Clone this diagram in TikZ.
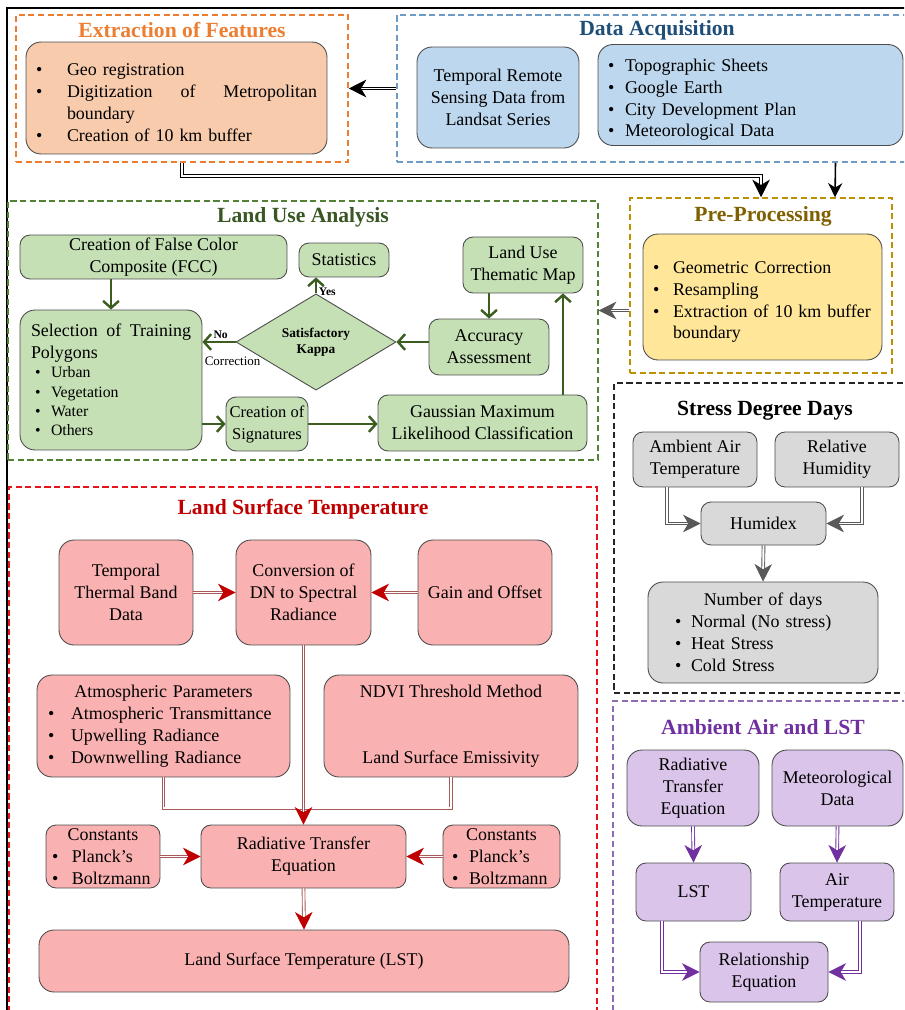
\documentclass[tikz,border=0pt]{standalone}
\usepackage{fontspec}
\setmainfont{Liberation Serif}
\usetikzlibrary{shapes.geometric, arrows.meta, calc}

\definecolor{orng}{HTML}{ED7D31}
\definecolor{peach}{HTML}{F8CBAD}
\definecolor{bluefr}{HTML}{6E9BC5}
\definecolor{bluett}{HTML}{1F4E79}
\definecolor{bluefl}{HTML}{BDD7EE}
\definecolor{goldfr}{HTML}{BF9000}
\definecolor{goldtt}{HTML}{7F6000}
\definecolor{goldfl}{HTML}{FFE699}
\definecolor{grnfr}{HTML}{548235}
\definecolor{grntt}{HTML}{385723}
\definecolor{grnfl}{HTML}{C5E0B4}
\definecolor{grnar}{HTML}{3B5E20}
\definecolor{grayfl}{HTML}{D9D9D9}
\definecolor{grayar}{HTML}{595959}
\definecolor{purpfr}{HTML}{8E6BB5}
\definecolor{purptt}{HTML}{7030A0}
\definecolor{purpfl}{HTML}{DAC4EA}
\definecolor{redfr}{HTML}{E8141B}
\definecolor{redtt}{HTML}{C00000}
\definecolor{redfl}{HTML}{FAB1B1}
\definecolor{redln}{HTML}{A85A5A}

\newcommand{\bl}[3][0pt]{\par\noindent\hangindent=\dimexpr#1+#2\relax\hangafter=1\hspace*{#1}\makebox[#2][l]{\textbullet}#3}
\newcommand{\blc}[2]{\par\noindent\hspace*{#1}#2}

\tikzset{
  dframe/.style={draw, line width=0.9pt, dash pattern=on 3.5pt off 2pt, inner sep=0pt},
  ttl/.style={font=\fontsize{12.3}{14}\selectfont\bfseries},
  bx/.style={draw=black!70, line width=0.5pt, rounded corners=0.2cm, align=center, inner sep=0pt},
  lbx/.style={bx, align=left},
  dbl/.style={double, double distance=1.1pt, line width=0.5pt, -{Stealth[length=10pt,width=10pt,inset=3pt]}},
  redtip/.style={-{Stealth[length=10pt,width=10pt,inset=3pt,color=redtt]}},
  grar/.style={draw=grnar, line width=1.4pt, -{Straight Barb[length=4pt,width=9pt]}},
  lbl/.style={font=\fontsize{6.6}{8}\selectfont\bfseries, inner sep=1pt}
}

\begin{document}
\begin{tikzpicture}[x=0.02cm, y=-0.02cm, font=\fontsize{10.2}{12.5}\selectfont]
\useasboundingbox (0,0) rectangle (904,1010);
\clip (0,0) rectangle (904,1010);
\draw[line width=1.1pt] (7,1014) -- (7,8) -- (908,8);

\node[dframe, draw=orng, minimum width=6.64cm, minimum height=2.94cm] (extr) at (182,88.5) {};
\node[ttl, text=orng] (extrttl) at (182,30) {Extraction of Features};
\node[lbx, fill=peach, rounded corners=0.3cm, text width=5.62cm, inner xsep=0.2cm, minimum height=2.24cm] (extrbox) at (176.5,98)
  {\bl{0.62cm}{Geo registration}\bl{0.62cm}{Digitization\hfill of\hfill Metropolitan}\blc{0.62cm}{boundary}\bl{0.62cm}{Creation of 10 km buffer}};

\node[dframe, draw=bluefr, minimum width=10.22cm, minimum height=2.94cm] (acq) at (652.5,88.5) {};
\node[ttl, text=bluett] (acqttl) at (657,30) {Data Acquisition};
\node[bx, fill=bluefl, rounded corners=0.3cm, minimum width=3.24cm, minimum height=2.02cm] (remote) at (498,97.5) {Temporal Remote\\Sensing Data from\\Landsat Series};
\node[lbx, fill=bluefl, rounded corners=0.3cm, text width=5.7cm, inner xsep=0.2cm, minimum height=2.02cm] (sources) at (750.5,95)
  {\bl{0.34cm}{Topographic Sheets}\bl{0.34cm}{Google Earth}\bl{0.34cm}{City Development Plan}\bl{0.34cm}{Meteorological Data}};

\node[dframe, draw=goldfr, minimum width=5.24cm, minimum height=3.5cm] (pre) at (761,285.5) {};
\node[ttl, text=goldtt] (prettl) at (763,216) {Pre-Processing};
\node[lbx, fill=goldfl, rounded corners=0.3cm, text width=4.38cm, inner xsep=0.2cm, minimum height=2.52cm] (prebox) at (762.5,297)
  {\bl{0.4cm}{Geometric Correction}\bl{0.4cm}{Resampling}\bl{0.4cm}{Extraction of 10 km buffer}\blc{0.4cm}{boundary}};

\node[dframe, draw=grnfr, minimum width=11.8cm, minimum height=5.18cm] (lua) at (303,330.5) {};
\node[ttl, text=grntt] (luattl) at (303,217) {Land Use Analysis};
\node[bx, fill=grnfl, minimum width=5.34cm, minimum height=0.88cm] (fcc) at (153.5,257) {Creation of False Color\\Composite (FCC)};
\node[bx, fill=grnfl, minimum width=1.8cm, minimum height=0.68cm] (stats) at (344,260) {Statistics};
\node[bx, fill=grnfl, minimum width=2.4cm, minimum height=1.12cm] (thematic) at (523,265) {Land Use\\Thematic Map};
\node[diamond, draw=black!70, line width=0.5pt, fill=grnfl, minimum width=3.2cm, minimum height=1.72cm, inner sep=0pt, align=center, font=\fontsize{7.6}{9}\selectfont\bfseries] (kappa) at (316,342) {Satisfactory\\Kappa};
\node[lbx, fill=grnfl, rounded corners=0.3cm, text width=3.2cm, inner xsep=0.22cm, minimum height=2.8cm] (training) at (111,380)
  {Selection\hfill of\hfill Training\newline Polygons\par
   {\fontsize{9}{11}\selectfont\bl[0.08cm]{0.32cm}{Urban}\bl[0.08cm]{0.32cm}{Vegetation}\bl[0.08cm]{0.32cm}{Water}\bl[0.08cm]{0.32cm}{Others}\par}};
\node[bx, fill=grnfl, minimum width=2.4cm, minimum height=1.12cm] (accuracy) at (489,347) {Accuracy\\Assessment};
\node[bx, fill=grnfl, minimum width=1.64cm, minimum height=1.08cm, font=\fontsize{9.4}{12.5}\selectfont] (signatures) at (267,424) {Creation of\\Signatures};
\node[bx, fill=grnfl, minimum width=4.18cm, minimum height=1.12cm] (gmlc) at (482.5,423) {Gaussian Maximum\\Likelihood Classification};

\draw[grar] (fcc.south -| training.north) -- (training.north);
\draw[grar] (kappa.north) -- (kappa.north |- stats.south) node[lbl, right, pos=0.08] (yes) {Yes};
\draw[grar] (thematic.south -| accuracy.north) -- (accuracy.north);
\draw[grar] ($(gmlc.north)+(80.5,0)$) coordinate (g1) -- (g1 |- thematic.south);
\draw[grar] (accuracy.west |- kappa.east) -- (kappa.east);
\draw[grar] (kappa.west) -- (kappa.west -| training.east) node[lbl, above, pos=0.45] (no) {No};
\node[font=\fontsize{7.4}{9}\selectfont, inner sep=1pt] (corr) at ($(kappa.west)+(-3,19)$) {Correction};
\draw[grar] (signatures.west -| training.east) -- (signatures.west);
\draw[grar] (signatures.east) -- (gmlc.west |- signatures.east);

\node[dframe, draw=black!85, minimum width=5.88cm, minimum height=6.2cm] (sdd) at (761,538) {};
\node[ttl] (sddttl) at (765,411) {Stress Degree Days};
\node[bx, fill=grayfl, minimum width=2.48cm, minimum height=1.1cm] (airtemp) at (695,459.5) {Ambient Air\\Temperature};
\node[bx, fill=grayfl, minimum width=2.48cm, minimum height=1.1cm] (humidity) at (837,459.5) {Relative\\Humidity};
\node[bx, fill=grayfl, minimum width=2.5cm, minimum height=0.86cm] (humidex) at (763.5,523.5) {Humidex};
\node[lbx, fill=grayfl, rounded corners=0.3cm, text width=4.2cm, inner xsep=0.2cm, minimum height=2.02cm] (ndays) at (763,632.5)
  {\makebox[\hsize]{Number of days}\bl[0.34cm]{0.32cm}{Normal (No stress)}\bl[0.34cm]{0.32cm}{Heat Stress}\bl[0.34cm]{0.32cm}{Cold Stress}};

\draw[dbl, draw=grayar] ($(airtemp.south)+(-28,0)$) |- (humidex.west);
\draw[dbl, draw=grayar] ($(humidity.south)+(25,0)$) |- (humidex.east);
\draw[dbl, draw=grayar] (humidex.south) -- (ndays.north);

\node[dframe, draw=purpfr, minimum width=5.9cm, minimum height=6.28cm] (aal) at (760.5,858) {};
\node[ttl, text=purptt] (aalttl) at (763,727) {Ambient Air and LST};
\node[bx, fill=purpfl, rounded corners=0.3cm, minimum width=2.64cm, minimum height=1.52cm] (rte2) at (693,788) {Radiative\\Transfer\\Equation};
\node[bx, fill=purpfl, rounded corners=0.3cm, minimum width=2.62cm, minimum height=1.52cm] (meteo) at (837.5,788) {Meteorological\\Data};
\node[bx, fill=purpfl, minimum width=2.3cm, minimum height=1.16cm] (lst2) at (693.5,892) {LST};
\node[bx, fill=purpfl, minimum width=2.28cm, minimum height=1.16cm] (airt) at (837,892) {Air\\Temperature};
\node[bx, fill=purpfl, minimum width=2.56cm, minimum height=1.2cm] (relation) at (764,972) {Relationship\\Equation};

\draw[dbl, draw=purptt] (rte2.south) -- (lst2.north);
\draw[dbl, draw=purptt] (meteo.south) -- (airt.north);
\draw[dbl, draw=purptt] ($(lst2.south)+(-31.5,0)$) |- (relation.west);
\draw[dbl, draw=purptt] ($(airt.south)+(23,0)$) |- (relation.east);

\node[dframe, draw=redfr, minimum width=11.76cm, minimum height=10.56cm] (lstf) at (303,751) {};
\node[ttl, text=redtt] (lstttl) at (303,509) {Land Surface Temperature};
\node[bx, fill=redfl, rounded corners=0.3cm, minimum width=2.68cm, minimum height=2.1cm] (thermal) at (126,592.5) {Temporal\\Thermal Band\\Data};
\node[bx, fill=redfl, rounded corners=0.3cm, minimum width=2.7cm, minimum height=2.1cm] (conversion) at (303.5,592.5) {Conversion of\\DN to Spectral\\Radiance};
\node[bx, fill=redfl, rounded corners=0.3cm, minimum width=2.68cm, minimum height=2.1cm] (gain) at (485,592.5) {Gain and Offset};
\node[lbx, fill=redfl, rounded corners=0.3cm, text width=4.62cm, inner xsep=0.22cm, minimum height=2.04cm] (atmos) at (163.5,726)
  {\makebox[\hsize]{Atmospheric Parameters}\bl{0.46cm}{Atmospheric Transmittance}\bl{0.46cm}{Upwelling Radiance}\bl{0.46cm}{Downwelling Radiance}};
\node[bx, fill=redfl, rounded corners=0.3cm, minimum width=5.08cm, minimum height=2.04cm] (ndvi) at (451,726) {NDVI Threshold Method\\[24.9pt]Land Surface Emissivity};
\node[lbx, fill=redfl, text width=2.04cm, inner xsep=0.12cm, minimum height=1.26cm] (constl) at (103,856.5)
  {\makebox[\hsize]{Constants}\bl{0.4cm}{Planck's}\bl{0.4cm}{Boltzmann}};
\node[bx, fill=redfl, minimum width=4.1cm, minimum height=1.26cm] (rte) at (303.5,856.5) {Radiative Transfer\\Equation};
\node[lbx, fill=redfl, text width=1.98cm, inner xsep=0.18cm, minimum height=1.26cm] (constr) at (501.5,856.5)
  {\makebox[\hsize]{Constants}\bl{0.34cm}{Planck's}\bl{0.34cm}{Boltzmann}};
\node[bx, fill=redfl, rounded corners=0.3cm, minimum width=10.6cm, minimum height=1.24cm] (lst) at (304,961) {Land Surface Temperature (LST)};

\draw[dbl, draw=redln, redtip] (thermal.east) -- (conversion.west);
\draw[dbl, draw=redln, redtip] (gain.west) -- (conversion.east);
\draw[dbl, draw=redln, -] (atmos.south) -- ++(0,31) -| (ndvi.south);
\draw[dbl, draw=redln, redtip] (conversion.south) -- (rte.north);
\draw[dbl, draw=redln, redtip] (constl.east) -- (rte.west);
\draw[dbl, draw=redln, redtip] (constr.west) -- (rte.east);
\draw[dbl, draw=redln, redtip] (rte.south) -- (lst.north);

\draw[dbl] (acq.west) -- (extr.east);
\draw[dbl] (extr.south) -- ++(0,13) -| (pre.north);
\draw[line width=0.9pt, -{Stealth[length=8pt,width=8pt,inset=2.5pt]}] ($(acq.south)+(183,0)$) -- ($(pre.north)+(74,0)$);
\draw[dbl, draw=grayar] ($(pre.west)+(0,25)$) -- ($(lua.east)+(0,-20)$);
\end{tikzpicture}
\end{document}
